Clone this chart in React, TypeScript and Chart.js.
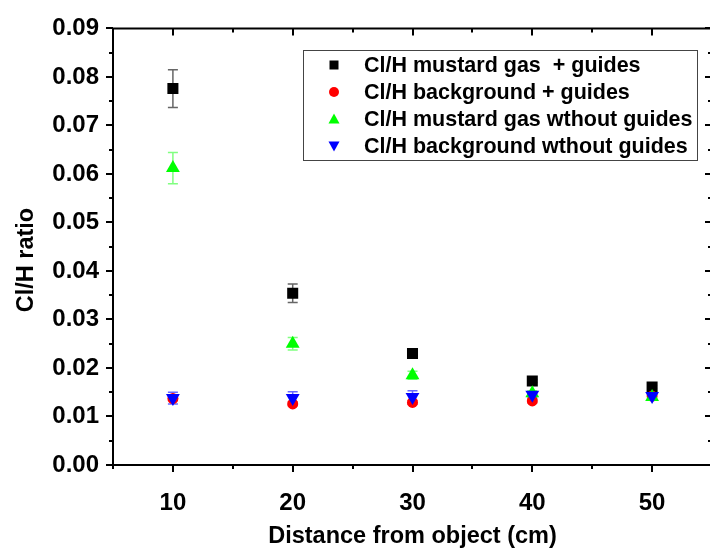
import React, { useEffect, useRef } from 'react';
import { Chart, registerables } from 'chart.js';

Chart.register(...registerables);

// ---- data ----
const distances = [10, 20, 30, 40, 50];
const seriesLabels = [
  'Cl/H mustard gas  + guides',
  'Cl/H background + guides',
  'Cl/H mustard gas wthout guides',
  'Cl/H background wthout guides',
];
const mustardGuides = [0.0776, 0.0354, 0.023, 0.0173, 0.0161];
const mustardGuidesErr = [0.0039, 0.0019, 0.0006, 0.0003, 0.0003];
const bgGuides = [0.0137, 0.0126, 0.0129, 0.0132, 0.0142];
const bgGuidesErr = [0.0004, 0.0004, 0.0004, 0.0004, 0.0004];
const mustardNoGuides = [0.0612, 0.025, 0.0185, 0.0148, 0.014];
const mustardNoGuidesErr = [0.0032, 0.0013, 0.0008, 0.0005, 0.0005];
const bgNoGuides = [0.0138, 0.0138, 0.014, 0.0145, 0.0142];
const bgNoGuidesErr = [0.0012, 0.0013, 0.0013, 0.0006, 0.0006];
const xTickValues = [10, 20, 30, 40, 50];
const yTickValues = [0, 0.01, 0.02, 0.03, 0.04, 0.05, 0.06, 0.07, 0.08, 0.09];
const xMinorStep = 5;
const yMinorStep = 0.005;
const yTitle = 'Cl/H ratio';
const xTitle = 'Distance from object (cm)';

const FONT = '"Liberation Sans", Arial, sans-serif';

const errorBarPlugin = {
  id: 'errorBars',
  beforeDatasetsDraw(chart: any) {
    const ctx = chart.ctx;
    const ys = chart.scales.y;
    const xs = chart.scales.x;
    chart.data.datasets.forEach((ds: any) => {
      const errs: number[] = ds.errors || [];
      ctx.save();
      ctx.strokeStyle = ds.errorColor;
      ctx.lineWidth = 1.5;
      ds.data.forEach((p: any, i: number) => {
        const e = errs[i];
        if (!e) return;
        const x = xs.getPixelForValue(p.x);
        const y1 = ys.getPixelForValue(p.y + e);
        const y2 = ys.getPixelForValue(p.y - e);
        ctx.beginPath();
        ctx.moveTo(x, y1);
        ctx.lineTo(x, y2);
        ctx.moveTo(x - 5, y1);
        ctx.lineTo(x + 5, y1);
        ctx.moveTo(x - 5, y2);
        ctx.lineTo(x + 5, y2);
        ctx.stroke();
      });
      ctx.restore();
    });
  },
};

const framePlugin = {
  id: 'frame',
  afterDatasetsDraw(chart: any) {
    const { ctx, chartArea } = chart;
    const { left, right, top, bottom } = chartArea;
    const xs = chart.scales.x;
    const ys = chart.scales.y;
    ctx.save();
    ctx.strokeStyle = '#000';
    ctx.lineWidth = 2;
    ctx.beginPath();
    ctx.rect(left, top, right - left, bottom - top);
    ctx.stroke();
    ctx.lineWidth = 2;
    ctx.beginPath();
    for (let v = 0; v <= 0.09 + 1e-9; v += yMinorStep) {
      const major = Math.abs(v / 0.01 - Math.round(v / 0.01)) < 1e-6;
      const y = Math.round(ys.getPixelForValue(v));
      const len = major ? 7 : 4;
      ctx.moveTo(left, y);
      ctx.lineTo(left - len, y);
      ctx.moveTo(right, y);
      ctx.lineTo(right - len, y);
    }
    for (let v = 5; v <= 55; v += xMinorStep) {
      const major = v % 10 === 0;
      const x = Math.round(xs.getPixelForValue(v));
      const len = major ? 7 : 4;
      ctx.moveTo(x, bottom);
      ctx.lineTo(x, bottom + len);
      ctx.moveTo(x, top);
      ctx.lineTo(x, top + len);
    }
    ctx.stroke();
    // y axis title
    ctx.translate(27, 260);
    ctx.rotate(-Math.PI / 2);
    ctx.fillStyle = '#000';
    ctx.font = `bold 23.5px ${FONT}`;
    ctx.textAlign = 'center';
    ctx.textBaseline = 'middle';
    ctx.fillText(yTitle, 0, 0);
    ctx.restore();
  },
};

function drawMarker(ctx: CanvasRenderingContext2D, kind: string, x: number, y: number, s: number, color: string) {
  ctx.fillStyle = color;
  ctx.beginPath();
  if (kind === 'rect') {
    ctx.rect(x - s, y - s, 2 * s, 2 * s);
  } else if (kind === 'circle') {
    ctx.arc(x, y, s, 0, Math.PI * 2);
  } else if (kind === 'up') {
    ctx.moveTo(x, y - s * 1.1);
    ctx.lineTo(x + s * 1.1, y + s * 0.9);
    ctx.lineTo(x - s * 1.1, y + s * 0.9);
    ctx.closePath();
  } else {
    ctx.moveTo(x, y + s * 1.1);
    ctx.lineTo(x + s * 1.1, y - s * 0.9);
    ctx.lineTo(x - s * 1.1, y - s * 0.9);
    ctx.closePath();
  }
  ctx.fill();
}

const legendPlugin = {
  id: 'boxLegend',
  afterDraw(chart: any) {
    const ctx = chart.ctx;
    ctx.save();
    ctx.strokeStyle = '#444';
    ctx.lineWidth = 1;
    ctx.fillStyle = '#fff';
    ctx.fillRect(303.5, 50.5, 394, 110);
    ctx.strokeRect(303.5, 50.5, 394, 110);
    const kinds = ['rect', 'circle', 'up', 'down'];
    const colors = ['#000000', '#ff0000', '#00ff00', '#0000ff'];
    const rowsY = [65, 92, 119, 146];
    seriesLabels.forEach((lab, i) => {
      drawMarker(ctx, kinds[i], 334, rowsY[i], kinds[i] === 'rect' ? 4.5 : 5, colors[i]);
      ctx.fillStyle = '#000';
      ctx.font = `bold 21.5px ${FONT}`;
      ctx.textBaseline = 'middle';
      ctx.textAlign = 'left';
      ctx.fillText(lab, 364, rowsY[i] + 1);
    });
    ctx.restore();
  },
};

function mk(values: number[]) {
  return values.map((v, i) => ({ x: distances[i], y: v }));
}

export default function App() {
  const ref = useRef<HTMLCanvasElement>(null);
  useEffect(() => {
    const canvas = ref.current!;
    const chart = new Chart(canvas, {
      type: 'scatter',
      data: {
        datasets: [
          {
            label: seriesLabels[0],
            data: mk(mustardGuides),
            errors: mustardGuidesErr,
            errorColor: '#666666',
            pointStyle: 'rect',
            pointRadius: 7.8,
            backgroundColor: '#000000',
            borderColor: '#000000',
            borderWidth: 0,
            order: 3,
          } as any,
          {
            label: seriesLabels[1],
            data: mk(bgGuides),
            errors: bgGuidesErr,
            errorColor: '#ff6666',
            pointStyle: 'circle',
            pointRadius: 5.5,
            backgroundColor: '#ff0000',
            borderColor: '#ff0000',
            borderWidth: 0,
            order: 2,
          } as any,
          {
            label: seriesLabels[2],
            data: mk(mustardNoGuides),
            errors: mustardNoGuidesErr,
            errorColor: '#80ff80',
            pointStyle: 'triangle',
            pointRadius: 8,
            backgroundColor: '#00ff00',
            borderColor: '#00ff00',
            borderWidth: 0,
            order: 1,
          } as any,
          {
            label: seriesLabels[3],
            data: mk(bgNoGuides),
            errors: bgNoGuidesErr,
            errorColor: '#6666ff',
            pointStyle: 'triangle',
            rotation: 180,
            pointRadius: 8,
            backgroundColor: '#0000ff',
            borderColor: '#0000ff',
            borderWidth: 0,
            order: 0,
          } as any,
        ],
      },
      options: {
        animation: false,
        responsive: false,
        layout: { padding: { top: 22, right: 7, left: 0, bottom: 0 } },
        plugins: { legend: { display: false }, tooltip: { enabled: false } },
        scales: {
          x: {
            type: 'linear',
            min: 5,
            max: 55,
            grid: { display: false, drawTicks: false },
            border: { display: false },
            afterBuildTicks: (s: any) => {
              s.ticks = xTickValues.map((v) => ({ value: v }));
            },
            afterFit: (s: any) => {
              s.height = 87;
            },
            ticks: {
              padding: 24,
              color: '#000',
              font: { family: FONT, size: 24, weight: 'bold' },
              maxRotation: 0,
            },
            title: {
              display: true,
              text: xTitle,
              color: '#000',
              font: { family: FONT, size: 23.5, weight: 'bold' },
              padding: { top: 0, bottom: 1 },
            },
          },
          y: {
            type: 'linear',
            min: 0,
            max: 0.09,
            grid: { display: false, drawTicks: false },
            border: { display: false },
            afterBuildTicks: (s: any) => {
              s.ticks = yTickValues.map((v) => ({ value: v }));
            },
            afterFit: (s: any) => {
              s.width = 113;
            },
            ticks: {
              padding: 14,
              color: '#000',
              font: { family: FONT, size: 24, weight: 'bold' },
              callback: (v: any) => Number(v).toFixed(2),
            },
            title: { display: false },
          },
        },
      },
      plugins: [errorBarPlugin, framePlugin, legendPlugin],
    } as any);
    return () => chart.destroy();
  }, []);
  return (
    <div
      style={{
        position: 'fixed',
        left: 0,
        top: 0,
        width: 710,
        height: 548,
        overflow: 'hidden',
        background: '#fff',
      }}
    >
      <canvas ref={ref} width={720} height={552} style={{ display: 'block' }} />
    </div>
  );
}
